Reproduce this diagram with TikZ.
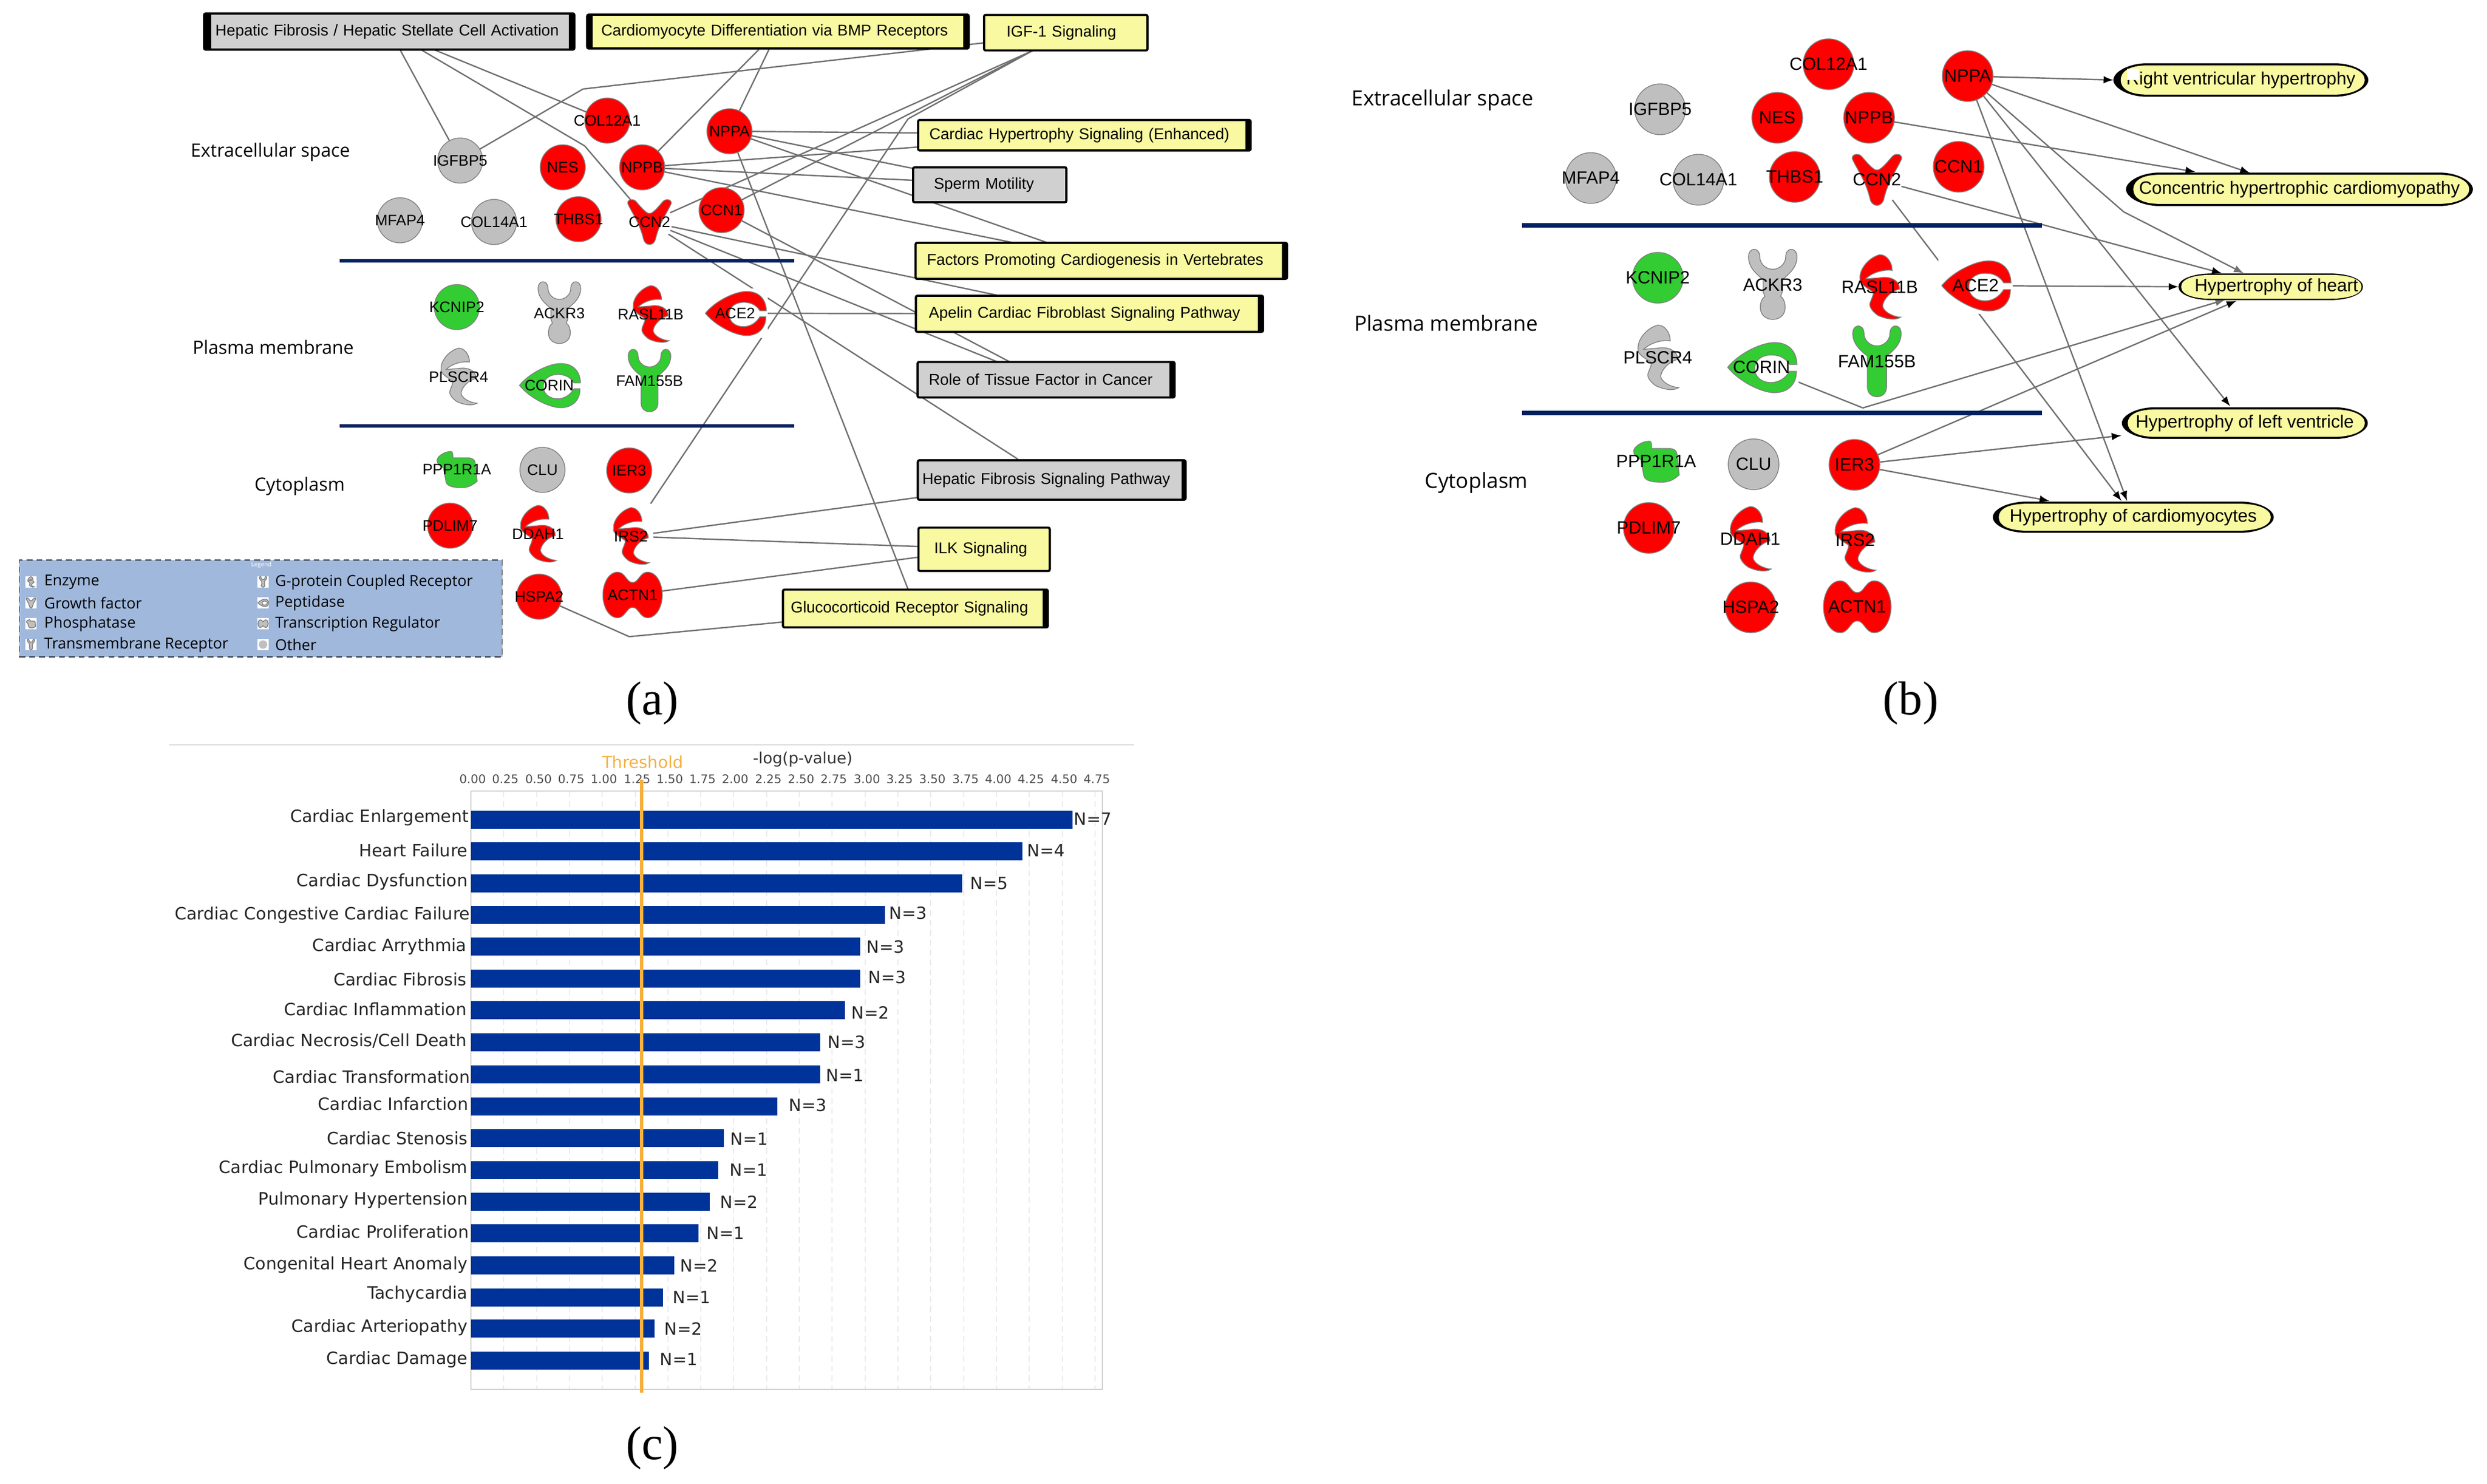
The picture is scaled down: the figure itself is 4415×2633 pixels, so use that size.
\documentclass[tikz,border=0pt]{standalone}
\usepackage{fontspec}
\setmainfont{Liberation Sans}
\newfontfamily\regionfont{Open Sans}
\newfontfamily\chartfont{DejaVu Sans}
\newfontfamily\capfont{Liberation Serif}
\usepackage{xcolor}
\usetikzlibrary{backgrounds}

\definecolor{genered}{HTML}{FF0000}
\definecolor{genegreen}{HTML}{33CC33}
\definecolor{genegray}{HTML}{BFBFBF}
\definecolor{geneedge}{HTML}{808080}
\definecolor{boxyellow}{HTML}{F9F9A1}
\definecolor{boxgray}{HTML}{D0D0D0}
\definecolor{linkgray}{HTML}{707070}
\definecolor{layernavy}{HTML}{00205F}
\definecolor{legendblue}{HTML}{A0B8DC}
\definecolor{barblue}{HTML}{003399}
\definecolor{thrshorange}{HTML}{F5B041}

% outline of a disease label: elliptical ends, flat top and bottom
\newcommand{\pillpath}[3]{
  ([xshift=#2]#1.west) .. controls ([xshift=#2,yshift=4pt]#1.west) and ([xshift=7.6pt,yshift=-#3]#1.north west) .. ([xshift=17pt,yshift=-#3]#1.north west)
  -- ([xshift=-17pt,yshift=-#3]#1.north east) .. controls ([xshift=-7.6pt,yshift=-#3]#1.north east) and ([xshift=-0.5*#2,yshift=4pt]#1.east) .. ([xshift=-0.5*#2]#1.east)
  .. controls ([xshift=-0.5*#2,yshift=-4pt]#1.east) and ([xshift=-7.6pt,yshift=#3]#1.south east) .. ([xshift=-17pt,yshift=#3]#1.south east)
  -- ([xshift=17pt,yshift=#3]#1.south west) .. controls ([xshift=7.6pt,yshift=#3]#1.south west) and ([xshift=#2,yshift=-4pt]#1.west) .. cycle
}
\newcommand{\pill}[3]{
  \fill[black] \pillpath{#1}{0pt}{0pt};
  \fill[boxyellow] \pillpath{#1}{#2}{#3};
}

\tikzset{
  gene/.style={circle,inner sep=0pt,outer sep=0pt},
  agene/.style={gene,minimum size=.8cm,label={[font=\fontsize{7.7}{9}\selectfont]center:#1}},
  bgene/.style={gene,minimum size=.9cm,label={[font=\fontsize{8.95}{10}\selectfont]center:#1}},
  redgene/.style={fill=genered,draw=geneedge,line width=.4pt},
  greengene/.style={fill=genegreen,draw=geneedge,line width=.4pt},
  graygene/.style={fill=genegray,draw=geneedge,line width=.4pt},
  iconsm/.style={scale=.88},
  pathbox/.style={rectangle,draw=black,line width=1.1pt,rounded corners=.8pt,inner ysep=0pt,fill=#1,align=left,
    font=\fontsize{7.9}{9}\selectfont},
  bars/.style 2 args={path picture={
    \fill[black] (path picture bounding box.north west) rectangle ([xshift=#1]path picture bounding box.south west);
    \fill[black] (path picture bounding box.north east) rectangle ([xshift=-#2]path picture bounding box.south east);}},
  disease/.style={rectangle,inner sep=0pt,font=\fontsize{9.05}{10}\selectfont},
  region/.style={font=\regionfont\fontsize{#1}{11}\selectfont},
  layerline/.style={draw=layernavy,line width=#1},
  link/.style={draw=linkgray,line width=.7pt},
  arrow/.style={draw=linkgray,line width=.7pt,-latex},
  caption/.style={font=\capfont\fontsize{24}{26}\selectfont},
  legtext/.style={anchor=west,inner sep=0pt,font=\regionfont\fontsize{7.65}{9}\selectfont},
  legbox/.style={fill=white,minimum size=.2cm,inner sep=0pt},
  ticklab/.style={font=\chartfont\fontsize{6}{7}\selectfont,text=black!70},
  rowlab/.style={anchor=east,inner sep=0pt,font=\chartfont\fontsize{8.57}{10}\selectfont,text=black!85},
  nlab/.style={inner sep=0pt,font=\chartfont\fontsize{8.5}{9}\selectfont,text=black!85},
  chartbar/.style={draw=barblue,line width=9pt},
  enzyme/.pic={
    \path[draw=geneedge,line width=.4pt,fill=#1] (0,-58) .. controls (12,-58) and (22,-45) .. (22,-30)
      .. controls (10,-32) and (-12,-28) .. (-25,-15) -- (0,-17)
      .. controls (15,-20) and (35,-15) .. (35,3) .. controls (22,6) and (8,18) .. (5,32)
      .. controls (5,42) and (22,52) .. (37,53) .. controls (30,58) and (15,58) .. (-3,50)
      .. controls (-15,42) and (-20,32) .. (-17,27) .. controls (-14,18) and (-10,12) .. (-12,8)
      .. controls (-25,0) and (-37,-8) .. (-35,-15) .. controls (-37,-30) and (-22,-52) .. (0,-58) -- cycle;},
  peptidase/.pic={
    \fill[white] (-66,-50) rectangle (66,50);
    \path[draw=geneedge,line width=.4pt,fill=#1] (-60,0) .. controls (-40,-25) and (0,-44) .. (23,-44)
      .. controls (45,-44) and (62,-32) .. (63,-5) -- (50,-5)
      .. controls (42,-18) and (30,-22) .. (17,-22) .. controls (0,-22) and (-12,-12) .. (-12,2)
      .. controls (-12,17) and (0,27) .. (17,27) .. controls (30,27) and (42,20) .. (50,7) -- (62,7)
      .. controls (62,32) and (45,45) .. (23,45) .. controls (0,45) and (-40,25) .. (-60,0) -- cycle;},
  tmreceptor/.pic={
    \path[draw=geneedge,line width=.4pt,fill=#1] (-43,-50) .. controls (-43,-68) and (-23,-68) .. (-23,-50)
      .. controls (-23,-38) and (-12,-28) .. (0,-28) .. controls (12,-28) and (23,-38) .. (23,-50)
      .. controls (23,-68) and (43,-68) .. (43,-50) .. controls (43,-32) and (30,-20) .. (17,-10)
      -- (17,45) .. controls (17,68) and (-17,68) .. (-17,45) -- (-17,-10)
      .. controls (-30,-20) and (-43,-32) .. (-43,-50) -- cycle;},
  gpcr/.pic={
    \path[draw=geneedge,line width=.4pt,fill=#1] (-43,-50) .. controls (-43,-68) and (-23,-68) .. (-23,-50)
      .. controls (-23,-38) and (-12,-28) .. (0,-28) .. controls (12,-28) and (23,-38) .. (23,-50)
      .. controls (23,-68) and (43,-68) .. (43,-50) .. controls (43,-32) and (30,-20) .. (17,-10)
      -- (17,12) -- (14,20) .. controls (20,24) and (22,32) .. (22,40) .. controls (22,68) and (-22,68) .. (-22,40)
      .. controls (-22,32) and (-20,24) .. (-14,20) -- (-17,12) -- (-17,-10)
      .. controls (-30,-20) and (-43,-32) .. (-43,-50) -- cycle;},
  phosphatase/.pic={
    \path[draw=geneedge,line width=.4pt,fill=#1] (-12,-36) .. controls (-8,-36) and (-8,-30) .. (-8,-23) -- (23,-23)
      .. controls (32,-23) and (37,-18) .. (37,-13) -- (41,24) .. controls (30,34) and (20,37) .. (10,37)
      .. controls (-5,37) and (-20,35) .. (-22,25) -- (-27,-3) .. controls (-35,-8) and (-40,-12) .. (-40,-18)
      .. controls (-40,-26) and (-25,-36) .. (-12,-36) -- cycle;},
  growthfactor/.pic={
    \path[draw=geneedge,line width=.4pt,fill=#1] (-44,-38) .. controls (-44,-46) and (-32,-48) .. (-26,-40)
      .. controls (-16,-28) and (-6,-17) .. (0,-17) .. controls (6,-17) and (16,-28) .. (26,-40)
      .. controls (32,-48) and (44,-46) .. (44,-38) .. controls (38,-22) and (20,0) .. (12,35)
      .. controls (8,49) and (-8,49) .. (-12,35) .. controls (-20,0) and (-38,-22) .. (-44,-38) -- cycle;},
  transreg/.pic={
    \path[draw=geneedge,line width=.4pt,fill=#1] (-30,-46) .. controls (-15,-46) and (-12,-25) .. (0,-25)
      .. controls (12,-25) and (15,-46) .. (30,-46) .. controls (50,-46) and (60,-20) .. (60,0)
      .. controls (60,20) and (50,46) .. (30,46) .. controls (15,46) and (12,25) .. (0,25)
      .. controls (-12,25) and (-15,46) .. (-30,46) .. controls (-50,46) and (-60,20) .. (-60,0)
      .. controls (-60,-20) and (-50,-46) .. (-30,-46) -- cycle;},
}

\begin{document}
\begin{tikzpicture}[x=0.01cm,y=-0.01cm]
  \useasboundingbox (0,0) rectangle (4415,2633);

  % panel a
  \node[pathbox=boxgray,bars={3.6pt}{2.8pt},text width=6.17cm,inner xsep=.2cm,minimum height=.64cm]    (a_hfhsc) at (691,56)   {Hepatic Fibrosis / Hepatic Stellate Cell Activation};
  \node[pathbox=boxyellow,bars={2.8pt}{2.8pt},text width=6.27cm,inner xsep=.25cm,minimum height=.6cm]  (a_bmp)   at (1381,56)  {Cardiomyocyte Differentiation via BMP Receptors};
  \node[pathbox=boxyellow,text width=2.1cm,inner xsep=.4cm,minimum height=.63cm]                       (a_igf)   at (1892,58)  {IGF-1 Signaling};
  \node[pathbox=boxyellow,bars={0pt}{2.6pt},text width=5.5cm,inner xsep=.2cm,minimum height=.54cm]     (a_hyp)   at (1925,240) {Cardiac Hypertrophy Signaling (Enhanced)};
  \node[pathbox=boxgray,text width=1.98cm,inner xsep=.37cm,minimum height=.62cm]                       (a_sperm) at (1757,328) {Sperm Motility};
  \node[pathbox=boxyellow,bars={0pt}{2.6pt},text width=6.19cm,inner xsep=.2cm,minimum height=.64cm]    (a_fact)  at (1955,463) {Factors Promoting Cardiogenesis in Vertebrates};
  \node[pathbox=boxyellow,bars={0pt}{2.6pt},text width=5.7cm,inner xsep=.23cm,minimum height=.64cm]    (a_apel)  at (1934,557) {Apelin Cardiac Fibroblast Signaling Pathway};
  \node[pathbox=boxgray,bars={0pt}{2.6pt},text width=4.16cm,inner xsep=.2cm,minimum height=.63cm]      (a_role)  at (1857,674) {Role of Tissue Factor in Cancer};
  \node[pathbox=boxgray,bars={0pt}{2pt},text width=4.59cm,inner xsep=.08cm,minimum height=.7cm]        (a_hfs)   at (1867,852) {Hepatic Fibrosis Signaling Pathway};
  \node[pathbox=boxyellow,text width=1.77cm,inner xsep=.28cm,minimum height=.77cm]                     (a_ilk)   at (1747,975) {ILK Signaling};
  \node[pathbox=boxyellow,bars={0pt}{2.6pt},text width=4.42cm,inner xsep=.14cm,minimum height=.67cm]   (a_gc)    at (1625,1080) {Glucocorticoid Receptor Signaling};

  \node[region=9.25] (a_ext) at (480,270) {Extracellular space};
  \node[region=9.25] (a_pla) at (485,616) {Plasma membrane};
  \node[region=9.25] (a_cyt) at (532,863) {Cytoplasm};

  \draw[layerline=1.7pt] (603,463) -- (1410,463);
  \draw[layerline=1.7pt] (603,756) -- (1410,756);

  \node[agene=COL12A1,redgene]  (a_col12) at (1078,214) {};
  \node[agene=NPPA,redgene]     (a_nppa)  at (1295,233) {};
  \node[agene=IGFBP5,graygene]  (a_igfbp) at (817,285)  {};
  \node[agene=NES,redgene]      (a_nes)   at (999,297)  {};
  \node[agene=NPPB,redgene]     (a_nppb)  at (1140,297) {};
  \node[agene=MFAP4,graygene]   (a_mfap)  at (710,391)  {};
  \node[agene=COL14A1,graygene] (a_col14) at (877,394)  {};
  \node[agene=THBS1,redgene]    (a_thbs)  at (1027,389) {};
  \node[agene=CCN1,redgene]     (a_ccn1)  at (1281,373) {};
  \pic[iconsm] at (1153,394) {growthfactor=genered};
  \node[agene=CCN2]             (a_ccn2)  at (1153,394) {};

  \node[agene=KCNIP2,greengene] (a_kcn)   at (811,545)  {};
  \pic[iconsm] at (993,556) {gpcr=genegray};
  \node[agene=ACKR3]            (a_ackr)  at (993,556)  {};
  \pic[iconsm] at (1155,558) {enzyme=genered};
  \node[agene=RASL11B]          (a_rasl)  at (1155,558) {};
  \pic[iconsm] at (1305,556) {peptidase=genered};
  \node[agene=ACE2]             (a_ace)   at (1305,556) {};
  \pic[iconsm] at (814,669) {enzyme=genegray};
  \node[agene=PLSCR4]           (a_plscr) at (814,669)  {};
  \pic[iconsm] at (975,684) {peptidase=genegreen};
  \node[agene=CORIN]            (a_corin) at (975,684)  {};
  \pic[iconsm] at (1153,676) {tmreceptor=genegreen};
  \node[agene=FAM155B]          (a_fam)   at (1153,676) {};

  \pic[iconsm] at (811,833) {phosphatase=genegreen};
  \node[agene=PPP1R1A]          (a_ppp)   at (811,833)  {};
  \node[agene=CLU,graygene]     (a_clu)   at (963,834)  {};
  \node[agene=IER3,redgene]     (a_ier)   at (1117,835) {};
  \node[agene=PDLIM7,redgene]   (a_pdl)   at (799,933)  {};
  \pic[iconsm] at (955,948) {enzyme=genered};
  \node[agene=DDAH1]            (a_ddah)  at (955,948)  {};
  \pic[iconsm] at (1120,952) {enzyme=genered};
  \node[agene=IRS2]             (a_irs)   at (1120,952) {};
  \node[agene=HSPA2,redgene]    (a_hsp)   at (957,1059) {};
  \pic[iconsm] at (1123,1056) {transreg=genered};
  \node[agene=ACTN1]            (a_actn)  at (1123,1056) {};

  \coordinate (a_w1) at (1035,158);
  \coordinate (a_w2) at (1038,259);
  \coordinate (a_w3) at (1612,211);
  \coordinate (a_w4) at (1117,1130);

  % legend
  \node[draw=black!80,densely dashed,line width=.4pt,fill=legendblue,minimum width=8.57cm,minimum height=1.72cm,inner sep=0pt] (l_box) at (463,1080) {};
  \node[text=white,font=\regionfont\fontsize{3}{4}\selectfont] (l_title) at (464,1003) {Legend};
  \node[legbox] (l_enz) at (55,1033)  {}; \pic[scale=.16] at (55,1033)  {enzyme=genegray};
  \node[legbox] (l_gro) at (55,1070)  {}; \pic[scale=.2] at (55,1070)  {growthfactor=genegray};
  \node[legbox] (l_pho) at (55,1107)  {}; \pic[scale=.2] at (55,1107)  {phosphatase=genegray};
  \node[legbox] (l_tmr) at (55,1144)  {}; \pic[scale=.15] at (55,1144)  {tmreceptor=genegray};
  \node[legbox] (l_gpc) at (467,1033) {}; \pic[scale=.15] at (467,1033) {gpcr=genegray};
  \node[legbox] (l_pep) at (467,1070) {}; \pic[scale=.15] at (467,1070) {peptidase=genegray};
  \node[legbox] (l_tre) at (467,1107) {}; \pic[scale=.15] at (467,1107) {transreg=genegray};
  \node[legbox] (l_oth) at (467,1144) {}; \node[circle,fill=genegray,minimum size=.15cm,inner sep=0pt] (l_otc) at (467,1144) {};
  \node[legtext] (l_t1) at (78,1033)  {Enzyme};
  \node[legtext] (l_t2) at (78,1070)  {Growth factor};
  \node[legtext] (l_t3) at (78,1107)  {Phosphatase};
  \node[legtext] (l_t4) at (78,1144)  {Transmembrane Receptor};
  \node[legtext] (l_t5) at (488,1033) {G-protein Coupled Receptor};
  \node[legtext] (l_t6) at (488,1070) {Peptidase};
  \node[legtext] (l_t7) at (488,1107) {Transcription Regulator};
  \node[legtext] (l_t8) at (488,1144) {Other};

  \begin{scope}[on background layer]
    \path[link]
    ([shift={(19,32)}]a_hfhsc.center) edge (a_igfbp)
    ([shift={(79,32)}]a_hfhsc.center) edge (a_col12)
    ([shift={(-34,32)}]a_bmp.center)  edge (a_nppb)
    ([shift={(-16,32)}]a_bmp.center)  edge (a_nppa)
    ([shift={(-59,32)}]a_igf.center)  edge (a_ccn2)
    ([shift={(-59,32)}]a_igf.center)  edge (a_ccn1)
    (a_nppa) edge ([shift={(-295,-4)}]a_hyp.center)
    (a_nppa) edge ([shift={(-136,-29)}]a_sperm.center)
    (a_nppa) edge ([shift={(-95,-32)}]a_fact.center)
    (a_nppa) edge ([shift={(-13,-34)}]a_gc.center)
    (a_nppb) edge ([shift={(-295,21)}]a_hyp.center)
    (a_nppb) edge ([shift={(-136,-8)}]a_sperm.center)
    (a_nppb) edge ([shift={(-160,-33)}]a_fact.center)
    (a_ccn1) edge ([shift={(-65,-32)}]a_role.center)
    (a_ccn2) edge ([shift={(-164,-33)}]a_apel.center)
    (a_ccn2) edge ([shift={(-87,-32)}]a_role.center)
    (a_ccn2) edge ([shift={(-60,-37)}]a_hfs.center)
    (a_ace)  edge (a_apel)
    (a_irs)  edge ([shift={(-238,31)}]a_hfs.center)
    (a_irs)  edge ([shift={(-117,-5)}]a_ilk.center)
    (a_actn) edge ([shift={(-117,14)}]a_ilk.center)
    ;
    \draw[link] ([shift={(56,32)}]a_hfhsc.center) -- (a_w2) -- (a_ccn2);
    \draw[link] ([shift={(-145,18)}]a_igf.center) -- (a_w1) -- (a_igfbp);
    \draw[link] ([shift={(-59,32)}]a_igf.center) -- (a_w3) -- ([shift={(35,-58)}]a_irs.center);
    \draw[link] (a_hsp) -- (a_w4) -- ([shift={(-235,24)}]a_gc.center);
  \end{scope}

  % panel b
  \node[region=10.55] (b_ext) at (2561,178) {Extracellular space};
  \node[region=10.55] (b_pla) at (2567,574) {Plasma membrane};
  \node[region=10.55] (b_cyt) at (2621,857) {Cytoplasm};

  \draw[layerline=2.2pt] (2702,400) -- (3625,400);
  \draw[layerline=2.2pt] (2702,733) -- (3625,733);

  \node[disease,minimum width=4.51cm,minimum height=.58cm] (b_rvh)  at (3978,142) {Right ventricular hypertrophy};
  \node[disease,minimum width=6.14cm,minimum height=.58cm] (b_chc)  at (4082,336) {Concentric hypertrophic cardiomyopathy};
  \node[disease,minimum width=3.26cm,minimum height=.46cm] (b_hoh)  at (4031,509) {\hspace*{.2cm}Hypertrophy of heart};
  \node[disease,minimum width=4.35cm,minimum height=.55cm] (b_hlv)  at (3985,751) {Hypertrophy of left ventricle};
  \node[disease,minimum width=4.97cm,minimum height=.54cm] (b_hcm)  at (3787,918) {Hypertrophy of cardiomyocytes};
  \fill[white] (3776,122) rectangle (3797,142);

  \node[bgene=COL12A1,redgene]  (b_col12) at (3246,114) {};
  \node[bgene=NPPA,redgene]     (b_nppa)  at (3493,135) {};
  \node[bgene=IGFBP5,graygene]  (b_igfbp) at (2947,194) {};
  \node[bgene=NES,redgene]      (b_nes)   at (3155,209) {};
  \node[bgene=NPPB,redgene]     (b_nppb)  at (3318,209) {};
  \node[bgene=MFAP4,graygene]   (b_mfap)  at (2824,316) {};
  \node[bgene=COL14A1,graygene] (b_col14) at (3015,319) {};
  \node[bgene=THBS1,redgene]    (b_thbs)  at (3186,314) {};
  \node[bgene=CCN1,redgene]     (b_ccn1)  at (3477,296) {};
  \pic at (3332,319) {growthfactor=genered};
  \node[bgene=CCN2]             (b_ccn2)  at (3332,319) {};

  \node[bgene=KCNIP2,greengene] (b_kcn)   at (2943,493) {};
  \pic at (3147,506) {gpcr=genegray};
  \node[bgene=ACKR3]            (b_ackr)  at (3147,506) {};
  \pic at (3337,510) {enzyme=genered};
  \node[bgene=RASL11B]          (b_rasl)  at (3337,510) {};
  \pic at (3507,507) {peptidase=genered};
  \node[bgene=ACE2]             (b_ace)   at (3507,507) {};
  \pic at (2943,635) {enzyme=genegray};
  \node[bgene=PLSCR4]           (b_plscr) at (2943,635) {};
  \pic at (3127,652) {peptidase=genegreen};
  \node[bgene=CORIN]            (b_corin) at (3127,652) {};
  \pic at (3332,642) {tmreceptor=genegreen};
  \node[bgene=FAM155B]          (b_fam)   at (3332,642) {};

  \pic at (2940,819) {phosphatase=genegreen};
  \node[bgene=PPP1R1A]          (b_ppp)   at (2940,819) {};
  \node[bgene=CLU,graygene]     (b_clu)   at (3113,824) {};
  \node[bgene=IER3,redgene]     (b_ier)   at (3292,825) {};
  \node[bgene=PDLIM7,redgene]   (b_pdl)   at (2927,937) {};
  \pic at (3107,957) {enzyme=genered};
  \node[bgene=DDAH1]            (b_ddah)  at (3107,957) {};
  \pic at (3293,959) {enzyme=genered};
  \node[bgene=IRS2]             (b_irs)   at (3293,959) {};
  \node[bgene=HSPA2,redgene]    (b_hsp)   at (3108,1078) {};
  \pic at (3297,1077) {transreg=genered};
  \node[bgene=ACTN1]            (b_actn)  at (3297,1077) {};

  \coordinate (b_w1) at (3770,376);
  \coordinate (b_w2) at (3307,724);

  \begin{scope}[on background layer]
    \path[arrow]
    (b_nppa) edge (b_rvh.west)
    (b_nppa) edge ([shift={(-88,-29)}]b_chc.center)
    (b_nppb) edge ([shift={(-185,-31)}]b_chc.center)
    (b_nppa) edge ([shift={(-26,-30)}]b_hlv.center)
    (b_nppa) edge ([shift={(-11,-29)}]b_hcm.center)
    (b_ccn2) edge ([shift={(-87,-24)}]b_hoh.center)
    (b_ccn2) edge ([shift={(-21,-29)}]b_hcm.center)
    (b_ace)  edge (b_hoh.west)
    (b_ier)  edge ([shift={(-61,25)}]b_hoh.center)
    (b_ier)  edge ([shift={(-219,22)}]b_hlv.center)
    (b_ier)  edge ([shift={(-149,-29)}]b_hcm.center)
    ;
    \draw[arrow] (b_nppa) -- (b_w1) -- ([shift={(-48,-24)}]b_hoh.center);
    \draw[arrow] (b_corin) -- (b_w2) -- ([shift={(-81,23)}]b_hoh.center);
    \pill{b_rvh}{3.7pt}{1.1pt}
    \pill{b_chc}{3.7pt}{1.1pt}
    \pill{b_hoh}{1.4pt}{.7pt}
    \pill{b_hlv}{3pt}{1.1pt}
    \pill{b_hcm}{3pt}{1.1pt}
  \end{scope}

  % panel c
  \draw[draw=black!15,line width=.8pt] (300,1322) -- (2013,1322);
  \node[text=thrshorange,font=\chartfont\fontsize{8.3}{9}\selectfont] (c_thr) at (1141,1353) {Threshold};
  \node[font=\chartfont\fontsize{7.9}{9}\selectfont,text=black!80] (c_log) at (1425,1348) {-log(p-value)};
  \path
  node[ticklab] (t_0)  at (839,1383)  {0.00}
  node[ticklab] (t_1)  at (897,1383)  {0.25}
  node[ticklab] (t_2)  at (956,1383)  {0.50}
  node[ticklab] (t_3)  at (1014,1383) {0.75}
  node[ticklab] (t_4)  at (1072,1383) {1.00}
  node[ticklab] (t_5)  at (1131,1383) {1.25}
  node[ticklab] (t_6)  at (1189,1383) {1.50}
  node[ticklab] (t_7)  at (1247,1383) {1.75}
  node[ticklab] (t_8)  at (1305,1383) {2.00}
  node[ticklab] (t_9)  at (1364,1383) {2.25}
  node[ticklab] (t_10) at (1422,1383) {2.50}
  node[ticklab] (t_11) at (1480,1383) {2.75}
  node[ticklab] (t_12) at (1539,1383) {3.00}
  node[ticklab] (t_13) at (1597,1383) {3.25}
  node[ticklab] (t_14) at (1655,1383) {3.50}
  node[ticklab] (t_15) at (1714,1383) {3.75}
  node[ticklab] (t_16) at (1772,1383) {4.00}
  node[ticklab] (t_17) at (1830,1383) {4.25}
  node[ticklab] (t_18) at (1889,1383) {4.50}
  node[ticklab] (t_19) at (1947,1383) {4.75};

  \draw[black!8,densely dashed,line width=.4pt]
    (894,1404) -- (894,2466) (953,1404) -- (953,2466) (1011,1404) -- (1011,2466) (1069,1404) -- (1069,2466)
    (1128,1404) -- (1128,2466) (1186,1404) -- (1186,2466) (1244,1404) -- (1244,2466) (1302,1404) -- (1302,2466)
    (1361,1404) -- (1361,2466) (1419,1404) -- (1419,2466) (1477,1404) -- (1477,2466) (1536,1404) -- (1536,2466)
    (1594,1404) -- (1594,2466) (1652,1404) -- (1652,2466) (1711,1404) -- (1711,2466) (1769,1404) -- (1769,2466)
    (1827,1404) -- (1827,2466) (1886,1404) -- (1886,2466) (1944,1404) -- (1944,2466);
  \draw[black!18,line width=.5pt] (836,1404) rectangle (1957,2466);

  \draw[chartbar] (836,1455) -- (1904,1455);
  \draw[chartbar] (836,1511) -- (1815,1511);
  \draw[chartbar] (836,1568) -- (1708,1568);
  \draw[chartbar] (836,1624) -- (1571,1624);
  \draw[chartbar] (836,1680) -- (1527,1680);
  \draw[chartbar] (836,1737) -- (1527,1737);
  \draw[chartbar] (836,1793) -- (1500,1793);
  \draw[chartbar] (836,1850) -- (1456,1850);
  \draw[chartbar] (836,1907) -- (1456,1907);
  \draw[chartbar] (836,1964) -- (1380,1964);
  \draw[chartbar] (836,2020) -- (1285,2020);
  \draw[chartbar] (836,2077) -- (1275,2077);
  \draw[chartbar] (836,2133) -- (1260,2133);
  \draw[chartbar] (836,2189) -- (1240,2189);
  \draw[chartbar] (836,2246) -- (1197,2246);
  \draw[chartbar] (836,2303) -- (1177,2303);
  \draw[chartbar] (836,2358) -- (1162,2358);
  \draw[chartbar] (836,2415) -- (1152,2415);
  \draw[draw=thrshorange,line width=1.6pt] (1139,1384) -- (1139,2472);

  \node[rowlab] (r_1)  at (833,1451) {Cardiac Enlargement};
  \node[rowlab] (r_2)  at (831,1509) {Heart Failure};
  \node[rowlab] (r_3)  at (831,1565) {Cardiac Dysfunction};
  \node[rowlab] (r_4)  at (835,1624) {Cardiac Congestive Cardiac Failure};
  \node[rowlab] (r_5)  at (829,1680) {Cardiac Arrythmia};
  \node[rowlab] (r_6)  at (829,1738) {Cardiac Fibrosis};
  \node[rowlab] (r_7)  at (829,1791) {Cardiac Inflammation};
  \node[rowlab] (r_8)  at (829,1847) {Cardiac Necrosis/Cell Death};
  \node[rowlab] (r_9)  at (835,1911) {Cardiac Transformation};
  \node[rowlab] (r_10) at (832,1959) {Cardiac Infarction};
  \node[rowlab] (r_11) at (831,2020) {Cardiac Stenosis};
  \node[rowlab] (r_12) at (831,2074) {Cardiac Pulmonary Embolism};
  \node[rowlab] (r_13) at (831,2130) {Pulmonary Hypertension};
  \node[rowlab] (r_14) at (833,2186) {Cardiac Proliferation};
  \node[rowlab] (r_15) at (831,2245) {Congenital Heart Anomaly};
  \node[rowlab] (r_16) at (831,2297) {Tachycardia};
  \node[rowlab] (r_17) at (831,2356) {Cardiac Arteriopathy};
  \node[rowlab] (r_18) at (831,2413) {Cardiac Damage};

  \node[nlab] (n_1)  at (1940,1454) {N=7};
  \node[nlab] (n_2)  at (1857,1510) {N=4};
  \node[nlab] (n_3)  at (1756,1568) {N=5};
  \node[nlab] (n_4)  at (1612,1621) {N=3};
  \node[nlab] (n_5)  at (1572,1681) {N=3};
  \node[nlab] (n_6)  at (1575,1735) {N=3};
  \node[nlab] (n_7)  at (1545,1797) {N=2};
  \node[nlab] (n_8)  at (1503,1850) {N=3};
  \node[nlab] (n_9)  at (1500,1909) {N=1};
  \node[nlab] (n_10) at (1434,1962) {N=3};
  \node[nlab] (n_11) at (1330,2022) {N=1};
  \node[nlab] (n_12) at (1329,2077) {N=1};
  \node[nlab] (n_13) at (1312,2133) {N=2};
  \node[nlab] (n_14) at (1288,2189) {N=1};
  \node[nlab] (n_15) at (1241,2246) {N=2};
  \node[nlab] (n_16) at (1228,2303) {N=1};
  \node[nlab] (n_17) at (1213,2358) {N=2};
  \node[nlab] (n_18) at (1205,2413) {N=1};

  \node[caption] (cap_a) at (1158,1248) {(a)};
  \node[caption] (cap_b) at (3392,1248) {(b)};
  \node[caption] (cap_c) at (1158,2570) {(c)};
\end{tikzpicture}
\end{document}
